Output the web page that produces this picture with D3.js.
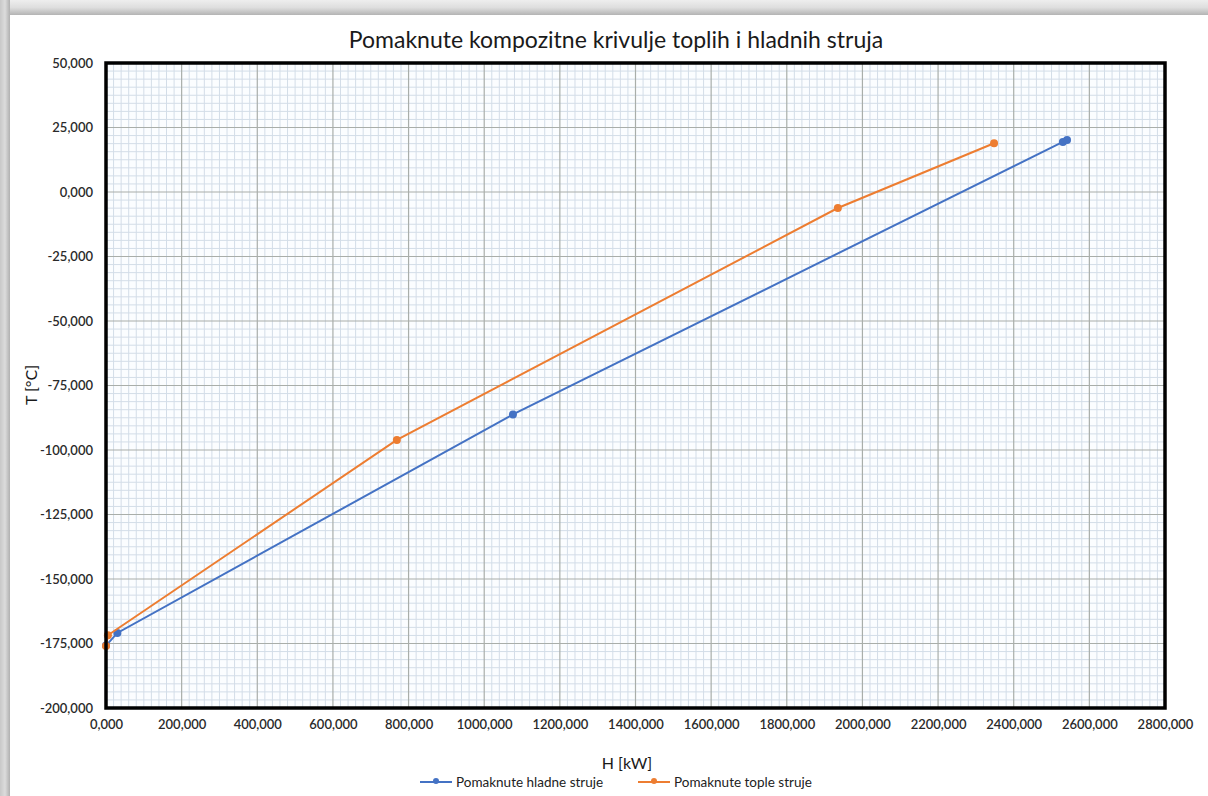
<!DOCTYPE html>
<html>
<head>
<meta charset="utf-8">
<script src="https://cdn.jsdelivr.net/npm/d3@7"></script>
<style>
  html, body { margin: 0; padding: 0; background: #ffffff; }
  svg { display: block; }
  text { font-family: Lato, "Open Sans", "Liberation Sans", sans-serif; }
</style>
</head>
<body>
<svg id="chart" width="1208" height="796"></svg>
<script>
// ---- data ----
const chartTitle = "Pomaknute kompozitne krivulje toplih i hladnih struja";
const xAxisTitle = "H [kW]";
const yAxisTitle = "T [°C]";
const seriesNames = ["Pomaknute hladne struje", "Pomaknute tople struje"];

const coldH = [0, 30, 1076, 2530, 2541];
const coldT = [-175.8, -170.9, -86.2, 19.4, 20.2];

const hotH = [0, 5, 769, 1935, 2348];
const hotT = [-176.0, -171.8, -96.1, -6.2, 18.9];

const xTicks = [0, 200, 400, 600, 800, 1000, 1200, 1400, 1600, 1800, 2000, 2200, 2400, 2600, 2800];
const yTicks = [-200, -175, -150, -125, -100, -75, -50, -25, 0, 25, 50];
const xMinorStep = 20;
const yMinorStep = 3.125;

// ---- layout ----
const W = 1208, H = 796;
const L = 106, R = 1165, T = 63, B = 708;
const blue = "#4472c4", orange = "#ed7d31";

const svg = d3.select("#chart");
const defs = svg.append("defs");

// window-like frame around the picture
const gTop = defs.append("linearGradient").attr("id", "gTop").attr("x1", 0).attr("y1", 0).attr("x2", 0).attr("y2", 1);
gTop.append("stop").attr("offset", "0%").attr("stop-color", "#eeeeee");
gTop.append("stop").attr("offset", "50%").attr("stop-color", "#dedede");
gTop.append("stop").attr("offset", "100%").attr("stop-color", "#b4b4b4");
const gLeft = defs.append("linearGradient").attr("id", "gLeft").attr("x1", 0).attr("y1", 0).attr("x2", 1).attr("y2", 0);
gLeft.append("stop").attr("offset", "0%").attr("stop-color", "#c8c8c8");
gLeft.append("stop").attr("offset", "50%").attr("stop-color", "#dcdcdc");
gLeft.append("stop").attr("offset", "100%").attr("stop-color", "#b0b0b0");

svg.append("rect").attr("x", 0).attr("y", 0).attr("width", W).attr("height", H).attr("fill", "#ffffff");
svg.append("rect").attr("x", 0).attr("y", 0).attr("width", W).attr("height", 15).attr("fill", "url(#gTop)");
svg.append("rect").attr("x", 0).attr("y", 0).attr("width", 10).attr("height", H).attr("fill", "url(#gLeft)");

const x = d3.scaleLinear().domain([0, 2800]).range([L, R]);
const y = d3.scaleLinear().domain([-200, 50]).range([B, T]);

// plot background
svg.append("rect").attr("x", L).attr("y", T).attr("width", R - L).attr("height", B - T).attr("fill", "#fbfdff");

// minor grid
const isMult = (v, s) => Math.abs(v / s - Math.round(v / s)) < 1e-6;
const xMinor = d3.range(0, 2800 + 0.001, xMinorStep).filter(v => !isMult(v, 200));
const yMinor = d3.range(-200, 50 + 0.001, yMinorStep).filter(v => !isMult(v, 25));
svg.append("g").selectAll("line").data(xMinor).join("line")
  .attr("x1", d => x(d)).attr("x2", d => x(d)).attr("y1", T).attr("y2", B)
  .attr("stroke", "#d3dde8").attr("stroke-width", 1);
svg.append("g").selectAll("line").data(yMinor).join("line")
  .attr("x1", L).attr("x2", R).attr("y1", d => y(d)).attr("y2", d => y(d))
  .attr("stroke", "#d3dde8").attr("stroke-width", 1);

// major grid
svg.append("g").selectAll("line").data(xTicks).join("line")
  .attr("x1", d => x(d)).attr("x2", d => x(d)).attr("y1", T).attr("y2", B)
  .attr("stroke", "#a9aeaa").attr("stroke-width", 1.2);
svg.append("g").selectAll("line").data(yTicks).join("line")
  .attr("x1", L).attr("x2", R).attr("y1", d => y(d)).attr("y2", d => y(d))
  .attr("stroke", "#a9aeaa").attr("stroke-width", 1.2);

// axes (labels only) via d3 axes
const fmt = v => d3.format(".3f")(v).replace(".", ",").replace("−", "-");
const xAxis = svg.append("g").attr("transform", `translate(0,${B})`)
  .call(d3.axisBottom(x).tickValues(xTicks).tickFormat(fmt).tickSize(0).tickPadding(12));
const yAxis = svg.append("g").attr("transform", `translate(${L},0)`)
  .call(d3.axisLeft(y).tickValues(yTicks).tickFormat(fmt).tickSize(0).tickPadding(13));
[xAxis, yAxis].forEach(a => {
  a.select(".domain").remove();
  a.selectAll("text").attr("font-family", "Lato, 'Open Sans', sans-serif")
    .attr("font-size", 13).attr("font-weight", 600).attr("fill", "#2a2a2a");
});

// series
const cold = coldH.map((h, i) => ({ h, t: coldT[i] }));
const hot = hotH.map((h, i) => ({ h, t: hotT[i] }));
const line = d3.line().x(d => x(d.h)).y(d => y(d.t));

const plot = svg.append("g");
[[cold, blue], [hot, orange]].forEach(([data, color]) => {
  plot.append("path").datum(data).attr("d", line)
    .attr("fill", "none").attr("stroke", color).attr("stroke-width", 2);
  plot.append("g").selectAll("circle").data(data).join("circle")
    .attr("cx", d => x(d.h)).attr("cy", d => y(d.t)).attr("r", 4).attr("fill", color);
});

// thick frame
svg.append("rect").attr("x", L).attr("y", T).attr("width", R - L).attr("height", B - T)
  .attr("fill", "none").attr("stroke", "#000").attr("stroke-width", 3.5);

// titles
svg.append("text").attr("x", 616).attr("y", 48).attr("text-anchor", "middle")
  .attr("font-size", 23).attr("fill", "#1a1a1a").text(chartTitle);
svg.append("text").attr("x", 627).attr("y", 769).attr("text-anchor", "middle")
  .attr("font-size", 16).attr("fill", "#1a1a1a").text(xAxisTitle);
svg.append("text").attr("transform", "translate(37,385) rotate(-90)").attr("text-anchor", "middle")
  .attr("font-size", 16).attr("fill", "#1a1a1a").text(yAxisTitle);

// legend
const legend = svg.append("g");
const legendItems = [
  { name: seriesNames[0], color: blue, x0: 420 },
  { name: seriesNames[1], color: orange, x0: 638 }
];
legendItems.forEach(it => {
  const g = legend.append("g").attr("transform", `translate(${it.x0},782)`);
  g.append("line").attr("x1", 0).attr("x2", 32).attr("y1", 0).attr("y2", 0)
    .attr("stroke", it.color).attr("stroke-width", 2);
  g.append("circle").attr("cx", 16).attr("cy", -1).attr("r", 3).attr("fill", it.color);
  g.append("text").attr("x", 36).attr("y", 4.5).attr("font-size", 13.5)
    .attr("fill", "#222").text(it.name);
});
</script>
</body>
</html>
